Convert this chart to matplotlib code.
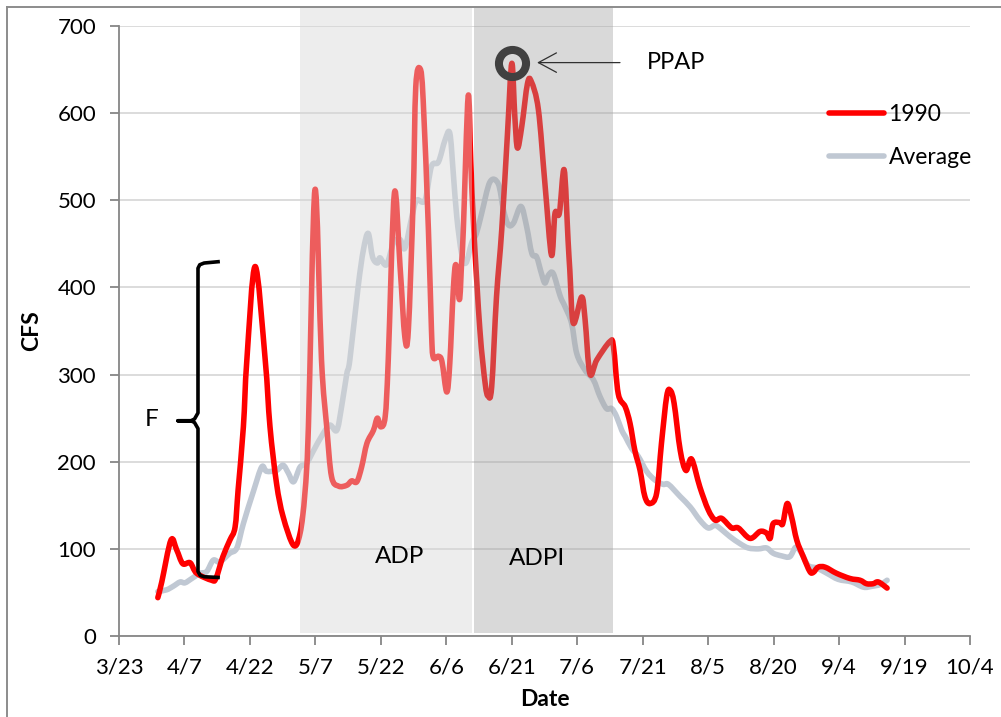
import numpy as np
import matplotlib
matplotlib.use("Agg")
import matplotlib.pyplot as plt
from matplotlib.lines import Line2D
from matplotlib.patches import Rectangle, PathPatch
from matplotlib.path import Path

plt.rcParams['font.family'] = ['Lato', 'DejaVu Sans']

# ---------------- data ----------------
tick_days = [0, 15, 30, 45, 60, 75, 90, 105, 120, 135, 150, 165, 180, 195]
tick_labels = ["3/23", "4/7", "4/22", "5/7", "5/22", "6/6", "6/21", "7/6",
               "7/21", "8/5", "8/20", "9/4", "9/19", "10/4"]
y_ticks = [0, 100, 200, 300, 400, 500, 600, 700]

# days after 3/23 and flow (CFS) for 1990
red_days = [8.9, 9.8, 11.9, 13.2, 14.6, 16.3, 17.8, 21.2, 22.2, 23.8, 25.4, 26.6,
            27.3, 28.5, 29.3, 31.2, 33.5, 34.6, 36.1, 37.6, 40.0, 41.5, 42.6, 43.4,
            44.9, 46.4, 47.6, 48.7, 50.3, 52.2, 53.3, 54.5, 55.6, 56.8, 58.3, 59.2,
            60.0, 61.0, 61.7, 63.1, 64.4, 65.5, 66.3, 67.4, 68.0, 69.0, 69.7, 70.9,
            71.6, 72.0, 73.2, 74.0, 75.1, 75.8, 76.6, 77.2, 78.0, 78.5, 78.9, 80.0,
            80.6, 81.3, 82.7, 83.9, 84.6, 85.4, 86.5, 87.7, 89.0, 90.0, 90.7, 91.3,
            92.3, 93.6, 94.5, 96.1, 97.6, 99.1, 99.9, 100.9, 102.0, 102.9, 103.3,
            104.1, 106.0, 106.8, 107.9, 109.5, 112.5, 113.3, 114.4, 116.0, 117.1,
            118.2, 119.4, 120.5, 121.7, 123.2, 124.3, 125.5, 126.3, 127.2, 128.6,
            129.9, 131.2, 133.1, 135.0, 136.6, 138.1, 140.4, 141.9, 144.6, 146.9,
            148.4, 149.2, 149.9, 151.5, 152.1, 153.1, 154.1, 155.3, 156.8, 158.3,
            159.1, 160.2, 161.8, 164.4, 167.5, 169.8, 171.3, 172.8, 174.0, 176.0]
red_vals = [44, 62, 110, 99, 83, 84, 72, 64, 66, 91, 110, 125,
            168, 240, 317, 424, 317, 240, 175, 137, 104, 118, 164, 240,
            512, 317, 240, 183, 172, 173, 178, 177, 194, 221, 236, 250,
            240, 252, 317, 508, 424, 343, 351, 500, 630, 651, 615, 466,
            351, 320, 321, 315, 280, 313, 397, 426, 386, 428, 466, 619,
            545, 466, 351, 290, 275, 286, 389, 466, 575, 657, 596, 560,
            585, 634, 636, 604, 519, 437, 485, 485, 535, 454, 420,
            359, 389, 363, 301, 317, 338, 332, 278, 263, 244,
            213, 190, 160, 152, 164, 221, 275, 282, 267, 213,
            190, 203, 171, 145, 133, 135, 124, 124, 112, 120,
            118, 112, 129, 130, 129, 152, 137, 110, 91, 74,
            73, 79, 79, 72, 66, 64, 60, 60, 62, 55]

avg_days = [8.9, 10.9, 12.4, 14.0, 15.1, 16.7, 18.6, 20.1, 21.6, 23.1, 25.4, 27.0,
            28.5, 30.8, 32.7, 33.8, 36.1, 37.6, 38.8, 40.0, 41.5, 43.0, 44.5, 46.5,
            48.3, 49.9, 51.0, 52.2, 52.9, 54.8, 56.0, 57.1, 58.1, 59.2, 59.8, 61.3,
            62.9, 64.4, 65.5, 67.1, 68.2, 70.1, 71.6, 73.2, 74.7, 75.8, 76.6, 77.4,
            78.5, 79.5, 80.8, 81.9, 83.1, 85.0, 86.9, 88.1, 89.2, 90.4, 92.1, 93.4,
            94.6, 95.7, 96.8, 97.6, 98.4, 99.5, 101.1, 102.2, 103.7, 104.9, 106.8,
            108.7, 110.2, 111.7, 112.9, 114.0, 115.2, 116.0, 117.5, 119.0, 120.9,
            122.8, 124.7, 125.9, 128.6, 130.9, 133.1, 135.0, 136.6, 138.1, 140.0,
            142.3, 144.2, 146.5, 148.4, 149.9, 151.8, 153.7, 155.1, 156.4, 157.9,
            159.9, 162.2, 164.8, 167.9, 170.6, 172.5, 174.4, 176.0]
avg_vals = [51, 53, 57, 62, 61, 66, 72, 74, 87, 85, 95, 101,
            129, 166, 194, 189, 190, 196, 187, 177, 194, 198, 212, 230,
            242, 236, 263, 301, 317, 401, 443, 462, 435, 428, 434, 426,
            451, 455, 445, 481, 500, 500, 539, 544, 569, 577, 531, 481,
            439, 428, 451, 462, 485, 521, 519, 489, 472, 474, 493, 470,
            439, 435, 416, 405, 414, 416, 390, 378, 359, 324, 305,
            294, 275, 261, 261, 252, 236, 229, 215, 206, 189,
            179, 174, 174, 160, 148, 133, 124, 127, 122, 114,
            106, 101, 100, 101, 95, 92, 91, 102, 95, 81,
            78, 72, 65, 62, 56, 57, 59, 64]

# shaded periods (days after 3/23)
adp_span = [41.5, 81.0]
adpi_span = [81.4, 113.1]

# annotations
ppap_point = [90.05, 657.5]
ppap_text = [121.0, 658.0]
ppap_arrow_tail = 114.8
ppap_arrow_tip = 95.8
adp_text = [64.4, 90.7]
adpi_text = [95.7, 89.5]
f_text = [7.45, 249.0]
brace_x = 18.1
brace_top = 428.0
brace_bottom = 68.0
brace_mid = 247.0

RED = '#FF0000'
GREY = '#C0C8D3'
LW = 4.0


def smooth_path(xs, ys):
    """Smoothed line through the points (Catmull-Rom as cubic Bezier), like a
    spreadsheet 'smoothed line'."""
    p = np.column_stack([xs, ys]).astype(float)
    n = len(p)
    verts = [p[0]]
    codes = [Path.MOVETO]
    for i in range(n - 1):
        p0 = p[i - 1] if i > 0 else p[i]
        p1, p2 = p[i], p[i + 1]
        p3 = p[i + 2] if i + 2 < n else p[i + 1]
        c1 = p1 + (p2 - p0) / 6.0
        c2 = p2 - (p3 - p1) / 6.0
        verts += [c1, c2, p2]
        codes += [Path.CURVE4] * 3
    return Path(np.array(verts), codes)


# ---------------- figure ----------------
W, H = 1001, 717
fig = plt.figure(figsize=(W / 100, H / 100), dpi=100)
ax = fig.add_axes([119 / W, (H - 636) / H, 851 / W, 610 / H])
ax.set_xlim(0, 195)
ax.set_ylim(0, 700)

ax.set_axisbelow(True)
ax.yaxis.grid(True, color='#D9D9D9', linewidth=1.3)
ax.set_xticks(tick_days)
ax.set_xticklabels(tick_labels)
ax.set_yticks(y_ticks)
for s in ['top', 'right']:
    ax.spines[s].set_visible(False)
for s in ['left', 'bottom']:
    ax.spines[s].set_color('#868686')
    ax.spines[s].set_linewidth(1.3)
ax.tick_params(axis='both', direction='out', length=6.5, width=1.3,
               color='#868686', labelsize=16, labelcolor='black')
ax.tick_params(axis='y', pad=10)
ax.tick_params(axis='x', pad=9)

ax.add_patch(PathPatch(smooth_path(avg_days, avg_vals), facecolor='none',
                       edgecolor=GREY, lw=LW, joinstyle='round', capstyle='round',
                       zorder=2))
ax.add_patch(PathPatch(smooth_path(red_days, red_vals), facecolor='none',
                       edgecolor=RED, lw=LW, joinstyle='round', capstyle='round',
                       zorder=2.5))

ymin_sh, ymax_sh = 3.4, 722
ax.add_patch(Rectangle((adp_span[0], ymin_sh), adp_span[1] - adp_span[0],
                       ymax_sh - ymin_sh, facecolor=(214/255, 214/255, 214/255),
                       alpha=0.44, edgecolor='none', zorder=3, clip_on=False))
ax.add_patch(Rectangle((adpi_span[0], ymin_sh), adpi_span[1] - adpi_span[0],
                       ymax_sh - ymin_sh, facecolor=(160/255, 160/255, 160/255),
                       alpha=0.40, edgecolor='none', zorder=3, clip_on=False))

ax.set_ylabel('CFS', fontsize=16.5, fontweight='bold', labelpad=11)
ax.set_xlabel('Date', fontsize=16.5, fontweight='bold', labelpad=8)

# legend
h_red = Line2D([], [], color=RED, lw=LW, solid_capstyle='round')
h_avg = Line2D([], [], color=GREY, lw=LW, solid_capstyle='round')
fig.legend([h_red, h_avg], ['1990', 'Average'], loc='upper left',
           bbox_to_anchor=(829 / W, 1 - 104 / H), frameon=False, fontsize=16.5,
           handlelength=2.4, handletextpad=0.2, labelspacing=0.95,
           borderpad=0, borderaxespad=0)

# annotations
ax.plot([ppap_point[0]], [ppap_point[1]], marker='o', markersize=19.5,
        markerfacecolor='none', markeredgecolor='#404040', markeredgewidth=5.8,
        zorder=5)
ax.annotate('', xy=(ppap_arrow_tip, ppap_text[1]), xytext=(ppap_arrow_tail, ppap_text[1]),
            arrowprops=dict(arrowstyle='->,head_length=1.3,head_width=0.7',
                            color='#303030', lw=0.9, mutation_scale=10,
                            shrinkA=0, shrinkB=0), zorder=5)
ax.text(ppap_text[0], ppap_text[1], 'PPAP', fontsize=17, va='center', ha='left', zorder=6)
ax.text(adp_text[0], adp_text[1], 'ADP', fontsize=17.5, va='center', ha='center', zorder=6)
ax.text(adpi_text[0], adpi_text[1], 'ADPI', fontsize=17.5, va='center', ha='center', zorder=6)
ax.text(f_text[0], f_text[1], 'F', fontsize=17.5, va='center', ha='center', zorder=6)

bx = [brace_x + 4.6, brace_x + 1.4, brace_x + 0.4, brace_x,
      brace_x, brace_x - 0.8, brace_x - 1.6, brace_x - 4.6,
      brace_x - 1.6, brace_x - 0.8, brace_x,
      brace_x, brace_x + 0.5, brace_x + 1.4, brace_x + 4.6]
by = [brace_top + 1.5, brace_top, brace_top - 2, brace_top - 6,
      brace_mid + 9, brace_mid + 2, brace_mid, brace_mid,
      brace_mid, brace_mid - 2, brace_mid - 9,
      brace_bottom + 6, brace_bottom + 1.5, brace_bottom, brace_bottom - 0.8]
ax.plot(bx, by, color='black', lw=2.6, solid_joinstyle='round', zorder=6, clip_on=False)

# outer border (partial, as cropped)
fig.add_artist(Line2D([7 / W, 7 / W], [0, 1 - 7 / H], transform=fig.transFigure,
                      color='#8C8C8C', lw=1.4))
fig.add_artist(Line2D([7 / W, 1], [1 - 7 / H, 1 - 7 / H], transform=fig.transFigure,
                      color='#8C8C8C', lw=1.4))

fig.savefig('out.png', dpi=100)
